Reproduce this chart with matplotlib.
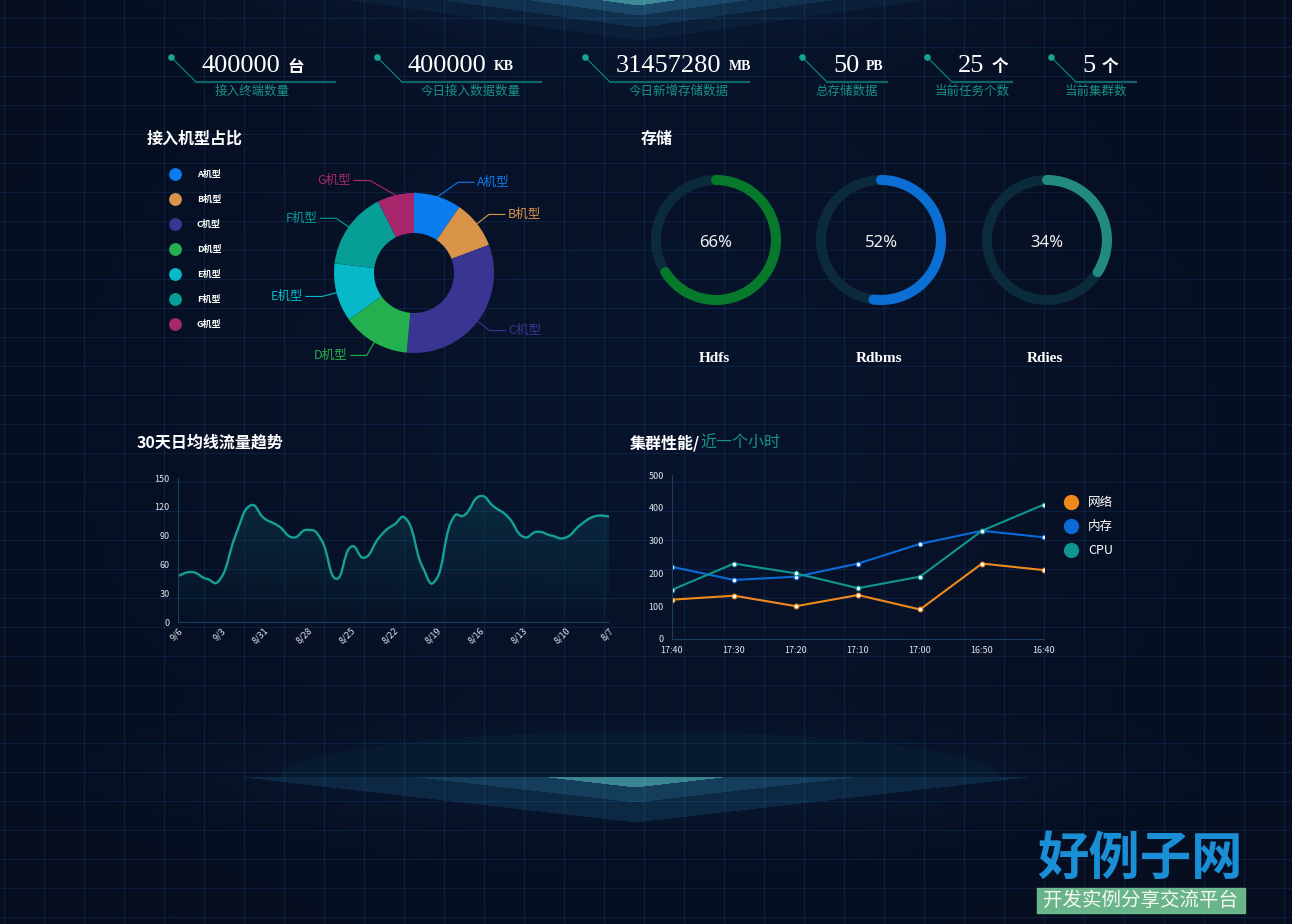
import numpy as np
import matplotlib
matplotlib.use('Agg')
import matplotlib.pyplot as plt
from matplotlib.path import Path
from matplotlib.patches import PathPatch, Arc, Circle, Rectangle
from matplotlib.lines import Line2D

plt.rcParams['font.family'] = ['Noto Sans CJK SC', 'DejaVu Sans']

W, H = 1292, 924

# ---- data ----
kpi_values = ['400000', '400000', '31457280', '50', '25', '5']
kpi_units = ['台', 'KB', 'MB', 'PB', '个', '个']
kpi_labels = ['接入终端数量', '今日接入数据数量', '今日新增存储数据', '总存储数据', '当前任务个数', '当前集群数']

model_names = ['A机型', 'B机型', 'C机型', 'D机型', 'E机型', 'F机型', 'G机型']
model_share = [9.6, 9.7, 32.2, 13.7, 11.8, 15.7, 7.4]
model_colors = ['#0a7cf0', '#d9944a', '#3a3593', '#24b04e', '#07b8c8', '#079e98', '#a8276c']

storage_names = ['Hdfs', 'Rdbms', 'Rdies']
storage_pct = [66, 52, 34]
storage_colors = ['#067a2a', '#0b6fd6', '#238a80']

flow_dates = ['9/6', '9/5', '9/4', '9/3', '9/2', '9/1', '8/31', '8/30', '8/29', '8/28',
              '8/27', '8/26', '8/25', '8/24', '8/23', '8/22', '8/21', '8/20', '8/19', '8/18',
              '8/17', '8/16', '8/15', '8/14', '8/13', '8/12', '8/11', '8/10', '8/9', '8/8', '8/7']
flow_values = [48, 52, 45, 46, 90, 121, 108, 100, 88, 96, 85, 45, 78, 67, 88, 101,
               105, 58, 45, 104, 112, 131, 120, 109, 89, 94, 90, 88, 101, 110, 110]

cluster_times = ['17:40', '17:30', '17:20', '17:10', '17:00', '16:50', '16:40']
cluster_names = ['网络', '内存', 'CPU']
net_vals = [120, 132, 100, 134, 90, 230, 210]
mem_vals = [220, 180, 190, 230, 290, 330, 310]
cpu_vals = [150, 230, 200, 155, 190, 330, 410]
cluster_colors = ['#f0891c', '#0a6ad8', '#0f9690']

TEAL_TXT = '#17938a'


def smooth_path(xs, ys, t=0.25):
    # echarts-like smooth curve through the points
    pts = np.column_stack([xs, ys]).astype(float)
    n = len(pts)
    verts = [tuple(pts[0])]
    codes = [Path.MOVETO]
    for i in range(n - 1):
        p0 = pts[max(i - 1, 0)]
        p1 = pts[i]
        p2 = pts[i + 1]
        p3 = pts[min(i + 2, n - 1)]
        c1 = p1 + (p2 - p0) * t
        c2 = p2 - (p3 - p1) * t
        verts += [tuple(c1), tuple(c2), tuple(p2)]
        codes += [Path.CURVE4] * 3
    return verts, codes


fig = plt.figure(figsize=(W / 100, H / 100), dpi=100)
ax = fig.add_axes([0, 0, 1, 1])
ax.set_xlim(0, W)
ax.set_ylim(H, 0)
ax.axis('off')

# ---- background ----
yy, xx = np.mgrid[0:H, 0:W].astype(float)
bg = np.zeros((H, W, 3))
bg[:] = np.array([6, 13, 30]) / 255
glow = np.exp(-((xx - 646) / 560) ** 2 - ((yy - 420) / 450) ** 2)
bg += glow[..., None] * np.array([2, 7, 14]) / 255
top_soft = np.exp(-((xx - 640) / 330) ** 2) * np.exp(-yy / 45)
bg += top_soft[..., None] * np.array([4, 14, 24]) / 255

d_top = yy + 0.14 * np.abs(xx - 638)
for lim, col in [(40, (11, 32, 56)), (27, (16, 48, 78)), (15, (25, 72, 104)), (5, (60, 138, 152))]:
    bg[d_top < lim] = np.array(col) / 255

bot_soft = np.exp(-((xx - 640) / 420) ** 2) * np.exp(-((yy - 777) / 45) ** 2)
bg += bot_soft[..., None] * np.array([2, 8, 14]) / 255
dome = ((xx - 640) / 360) ** 2 + ((yy - 777) / 46) ** 2
bg[(dome < 1) & (yy < 777)] = np.array([8, 26, 47]) / 255
d_bot = (yy - 777) + 0.115 * np.abs(xx - 635)
below = yy >= 777
for lim, col in [(45, (13, 40, 66)), (25, (20, 62, 92)), (10, (58, 132, 148))]:
    bg[below & (d_bot < lim)] = np.array(col) / 255

bg[:, 4::40] += np.array([5, 15, 26]) / 255
bg[18::29, :] += np.array([5, 15, 26]) / 255
bg = np.clip(bg, 0, 1)
ax.imshow(bg, extent=(0, W, H, 0), aspect='auto', zorder=0)

# ---- KPI row ----
kpi_x = [171, 377, 585, 802, 927, 1051]
kpi_w = [139, 139, 139, 60, 60, 60]
for i in range(len(kpi_values)):
    x0 = kpi_x[i]
    ax.plot([x0, x0 + 25], [57, 82], color='#0e8a80', lw=0.8, zorder=2)
    ax.plot([x0 + 25, x0 + 25 + kpi_w[i]], [82, 82], color='#10656b', lw=1.6, zorder=2)
    ax.scatter([x0], [57], s=14, color='#16a595', zorder=3)
    t = ax.text(x0 + 31, 72, kpi_values[i], fontfamily='Liberation Serif', fontsize=19,
                color='white', ha='left', va='baseline', zorder=3)
    if kpi_units[i] in ('台', '个'):
        ax.annotate(kpi_units[i], xy=(1, 0), xycoords=t, xytext=(7, 1), textcoords='offset pixels',
                    fontsize=12, fontweight='bold', color='white', ha='left', va='bottom', zorder=3)
    else:
        ax.annotate(kpi_units[i], xy=(1, 0), xycoords=t, xytext=(7, 4), textcoords='offset pixels',
                    fontfamily='Liberation Serif', fontsize=10, fontweight='bold', color='white',
                    ha='left', va='bottom', zorder=3)
    if i < 3:
        ax.text(x0 + 44, 91, kpi_labels[i], fontsize=9, color=TEAL_TXT, ha='left', va='center')
    else:
        ax.text(x0 + 45, 91, kpi_labels[i], fontsize=9, color=TEAL_TXT, ha='center', va='center')

# ---- section titles ----
ttl = dict(fontsize=11.5, fontweight='bold', color='white', va='center', ha='left')
ax.text(147, 139, '接入机型占比', **ttl)
ax.text(641, 139, '存储', **ttl)
ax.text(137, 443, '30天日均线流量趋势', **ttl)
t = ax.text(630, 443, '集群性能/', **ttl)
ax.annotate('近一个小时', xy=(1, 0.5), xycoords=t, xytext=(0, 0), textcoords='offset pixels',
            fontsize=11.5, color=TEAL_TXT, va='center', ha='left')

# ---- pie ----
pax = fig.add_axes([(414 - 150) / W, 1 - (273 + 150) / H, 300 / W, 300 / H])
wedges, _ = pax.pie(model_share, colors=model_colors, radius=80, startangle=90,
                    counterclock=False, wedgeprops=dict(width=40, linewidth=0))
pax.set_xlim(-150, 150)
pax.set_ylim(-150, 150)
pax.set_aspect('equal')
pax.axis('off')
for w, name, col in zip(wedges, model_names, model_colors):
    ang = np.deg2rad((w.theta1 + w.theta2) / 2)
    dx, dy = np.cos(ang), np.sin(ang)
    side = 1 if dx >= 0 else -1
    ex = side * max(abs(95 * dx), 44)
    ey = 95 * dy
    hx = ex + side * 16
    pax.plot([80 * dx, ex, hx], [80 * dy, ey, ey], color=col, lw=0.8)
    pax.text(hx + side * 3, ey, name, color=col, fontsize=9,
             ha='left' if side > 0 else 'right', va='center')

leg_handles = [Line2D([], [], ls='', marker='o', ms=8.2, color=c) for c in model_colors]
fig.legend(leg_handles, model_names, loc='upper left', bbox_to_anchor=(171 / W, 1 - 170 / H),
           frameon=False, handlelength=0.9, handletextpad=1.95, labelspacing=1.78,
           labelcolor='white', borderpad=0, borderaxespad=0,
           prop=dict(size=6.5, weight='bold'))

# ---- storage gauges ----
ring_x = [716, 881, 1047]
for cx, name, pct, col in zip(ring_x, storage_names, storage_pct, storage_colors):
    gax = fig.add_axes([(cx - 75) / W, 1 - (240 + 75) / H, 150 / W, 150 / H])
    gax.set_xlim(-75, 75)
    gax.set_ylim(-75, 75)
    gax.axis('off')
    gax.add_patch(Circle((0, 0), 60, fill=False, lw=7.2, ec='#0b2a3b'))
    gax.add_patch(Arc((0, 0), 120, 120, theta1=90 - 3.6 * pct, theta2=90, lw=7.2,
                      color=col, capstyle='round'))
    gax.text(0, -3, '{}%'.format(pct), fontfamily='Noto Sans', fontsize=12,
             color='#f0f0f0', ha='center', va='center')
    ax.text(cx - 2, 358, name, fontfamily='Liberation Serif', fontsize=11, fontweight='bold',
            color='white', ha='center', va='center')

# ---- 30 day trend ----
tax = fig.add_axes([178 / W, 1 - 622 / H, 431 / W, 144 / H])
tx = np.arange(len(flow_values))
verts, codes = smooth_path(tx, flow_values)
fill_verts = verts + [(tx[-1], 0), (tx[0], 0), (tx[0], flow_values[0])]
fill_codes = codes + [Path.LINETO, Path.LINETO, Path.CLOSEPOLY]
fill_patch = PathPatch(Path(fill_verts, fill_codes), fc='none', ec='none')
tax.add_patch(fill_patch)
grad = np.zeros((100, 1, 4))
grad[..., 0] = 20 / 255
grad[..., 1] = 120 / 255
grad[..., 2] = 130 / 255
grad[..., 3] = np.linspace(0.26, 0.02, 100)[:, None]
im = tax.imshow(grad, extent=(0, 30, 0, 150), aspect='auto', origin='upper', zorder=1)
im.set_clip_path(fill_patch)
tax.add_patch(PathPatch(Path(verts, codes), fill=False, ec='#14a096', lw=1.7, zorder=2))
tax.set_xlim(0, 30)
tax.set_ylim(0, 150)
tax.set_yticks(range(0, 151, 30))
tax.set_xticks(tx[::3])
tax.set_xticklabels(flow_dates[::3], rotation=45, ha='right', va='top', rotation_mode='anchor')
tax.tick_params(length=0, colors='#dfe6ee', labelsize=6.5)
tax.tick_params(axis='y', pad=6)
tax.tick_params(axis='x', pad=3)
tax.patch.set_alpha(0)
for s in ['top', 'right']:
    tax.spines[s].set_visible(False)
for s in ['left', 'bottom']:
    tax.spines[s].set_color('#16405e')
    tax.spines[s].set_linewidth(0.8)

# ---- cluster performance ----
cax = fig.add_axes([672 / W, 1 - 639 / H, 372 / W, 164 / H])
cx_ = np.arange(len(cluster_times))
for vals, col, name in zip([net_vals, mem_vals, cpu_vals], cluster_colors, cluster_names):
    cax.plot(cx_, vals, color=col, lw=1.5, marker='o', ms=3.4, mfc='white', mec=col, mew=0.8,
             label=name)
cax.set_xlim(0, 6)
cax.set_ylim(0, 500)
cax.set_yticks(range(0, 501, 100))
cax.set_xticks(cx_)
cax.set_xticklabels(cluster_times)
cax.tick_params(length=0, colors='#dfe6ee', labelsize=6.5)
cax.tick_params(axis='y', pad=6)
cax.tick_params(axis='x', pad=5)
cax.patch.set_alpha(0)
for s in ['top', 'right']:
    cax.spines[s].set_visible(False)
for s in ['left', 'bottom']:
    cax.spines[s].set_color('#16405e')
    cax.spines[s].set_linewidth(0.8)
c_handles = [Line2D([], [], ls='', marker='o', ms=10, color=c) for c in cluster_colors]
fig.legend(c_handles, cluster_names, loc='upper left', bbox_to_anchor=(1065 / W, 1 - 496 / H),
           frameon=False, handlelength=1.0, handletextpad=0.85, labelspacing=0.88,
           fontsize=9, labelcolor='white', borderpad=0, borderaxespad=0)

# ---- site watermark ----
ax.text(1140, 858, '好例子网', fontsize=37, fontweight='black', color='#1b8fd6',
        ha='center', va='center', zorder=3)
ax.add_patch(Rectangle((1037, 888), 208, 25, color='#6fbf90', alpha=0.95, zorder=3))
ax.text(1141, 900.5, '开发实例分享交流平台', fontsize=14, color='#f4f8f4',
        ha='center', va='center', zorder=4)

fig.savefig('out.png', dpi=100, facecolor='#060d1e')
